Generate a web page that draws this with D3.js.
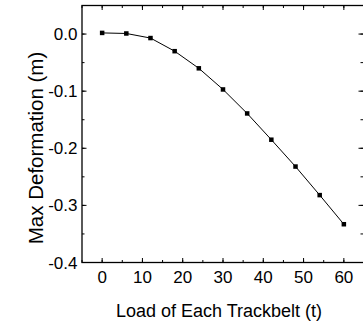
<!DOCTYPE html>
<html>
<head>
<meta charset="utf-8">
<script src="https://cdn.jsdelivr.net/npm/d3@7"></script>
<style>
  body { margin: 0; background: #fff; }
  text { font-family: "Liberation Sans", Arial, sans-serif; fill: #000; }
</style>
</head>
<body>
<div id="chart"></div>
<script>
const width = 363;
const height = 324;

const loads = [0, 6, 12, 18, 24, 30, 36, 42, 48, 54, 60];
const deformation = [0.002, 0.001, -0.007, -0.030, -0.060, -0.097, -0.139, -0.185, -0.232, -0.282, -0.333];
const xTicks = [0, 10, 20, 30, 40, 50, 60];
const yTicks = [0.0, -0.1, -0.2, -0.3, -0.4];

const plotLeft = 82, plotRight = 364, plotTop = 5.5, plotBottom = 262.5;

const x = d3.scaleLinear().domain([-5, 65]).range([plotLeft, plotRight]);
const y = d3.scaleLinear().domain([-0.4, 0.05]).range([plotBottom, plotTop]);

const svg = d3.select("#chart")
  .append("svg")
  .attr("width", width)
  .attr("height", height);

const xMinor = d3.range(-5, 66, 5);
const yMinor = d3.range(-0.4, 0.051, 0.05);

// ticks point inward on every side
function tickSet(g, vals, scale, len, vertical, pos, dir) {
  g.selectAll(null)
    .data(vals)
    .enter()
    .append("line")
    .attr("x1", d => vertical ? pos : scale(d))
    .attr("x2", d => vertical ? pos + dir * len : scale(d))
    .attr("y1", d => vertical ? scale(d) : pos)
    .attr("y2", d => vertical ? scale(d) : pos + dir * len)
    .style("stroke", "#000")
    .style("stroke-width", 1);
}

const ticks = svg.append("g");
tickSet(ticks, xMinor, x, 2.5, false, plotBottom, -1);
tickSet(ticks, xTicks, x, 4.5, false, plotBottom, -1);
tickSet(ticks, xMinor, x, 2.5, false, plotTop, 1);
tickSet(ticks, xTicks, x, 4.5, false, plotTop, 1);
tickSet(ticks, yMinor, y, 2.5, true, plotLeft, 1);
tickSet(ticks, yTicks, y, 4.5, true, plotLeft, 1);
tickSet(ticks, yMinor, y, 2.5, true, plotRight - 1, -1);
tickSet(ticks, yTicks, y, 4.5, true, plotRight - 1, -1);

svg.append("rect")
  .attr("x", plotLeft)
  .attr("y", plotTop)
  .attr("width", plotRight - plotLeft)
  .attr("height", plotBottom - plotTop)
  .style("fill", "none")
  .style("stroke", "#000")
  .style("stroke-width", 1.3);

svg.selectAll(".xl")
  .data(xTicks)
  .enter()
  .append("text")
  .attr("x", d => x(d))
  .attr("y", 283)
  .attr("text-anchor", "middle")
  .style("font-size", "17px")
  .text(d => d);

svg.selectAll(".yl")
  .data(yTicks)
  .enter()
  .append("text")
  .attr("x", 77.5)
  .attr("y", d => y(d) + 6)
  .attr("text-anchor", "end")
  .style("font-size", "17px")
  .text(d => d3.format(".1f")(d).replace("−", "-"));

svg.append("text")
  .attr("x", 219)
  .attr("y", 316.5)
  .attr("text-anchor", "middle")
  .style("font-size", "18px")
  .text("Load of Each Trackbelt (t)");

svg.append("text")
  .attr("transform", "translate(43,148) rotate(-90)")
  .attr("text-anchor", "middle")
  .style("font-size", "20.5px")
  .text("Max Deformation (m)");

const line = d3.line()
  .x((d, i) => x(loads[i]))
  .y(d => y(d));

svg.append("path")
  .datum(deformation)
  .attr("d", line)
  .style("fill", "none")
  .style("stroke", "#000")
  .style("stroke-width", 1);

svg.selectAll(".pt")
  .data(deformation)
  .enter()
  .append("rect")
  .attr("x", (d, i) => x(loads[i]) - 2.25)
  .attr("y", d => y(d) - 2.25)
  .attr("width", 4.5)
  .attr("height", 4.5)
  .style("fill", "#000");
</script>
</body>
</html>
